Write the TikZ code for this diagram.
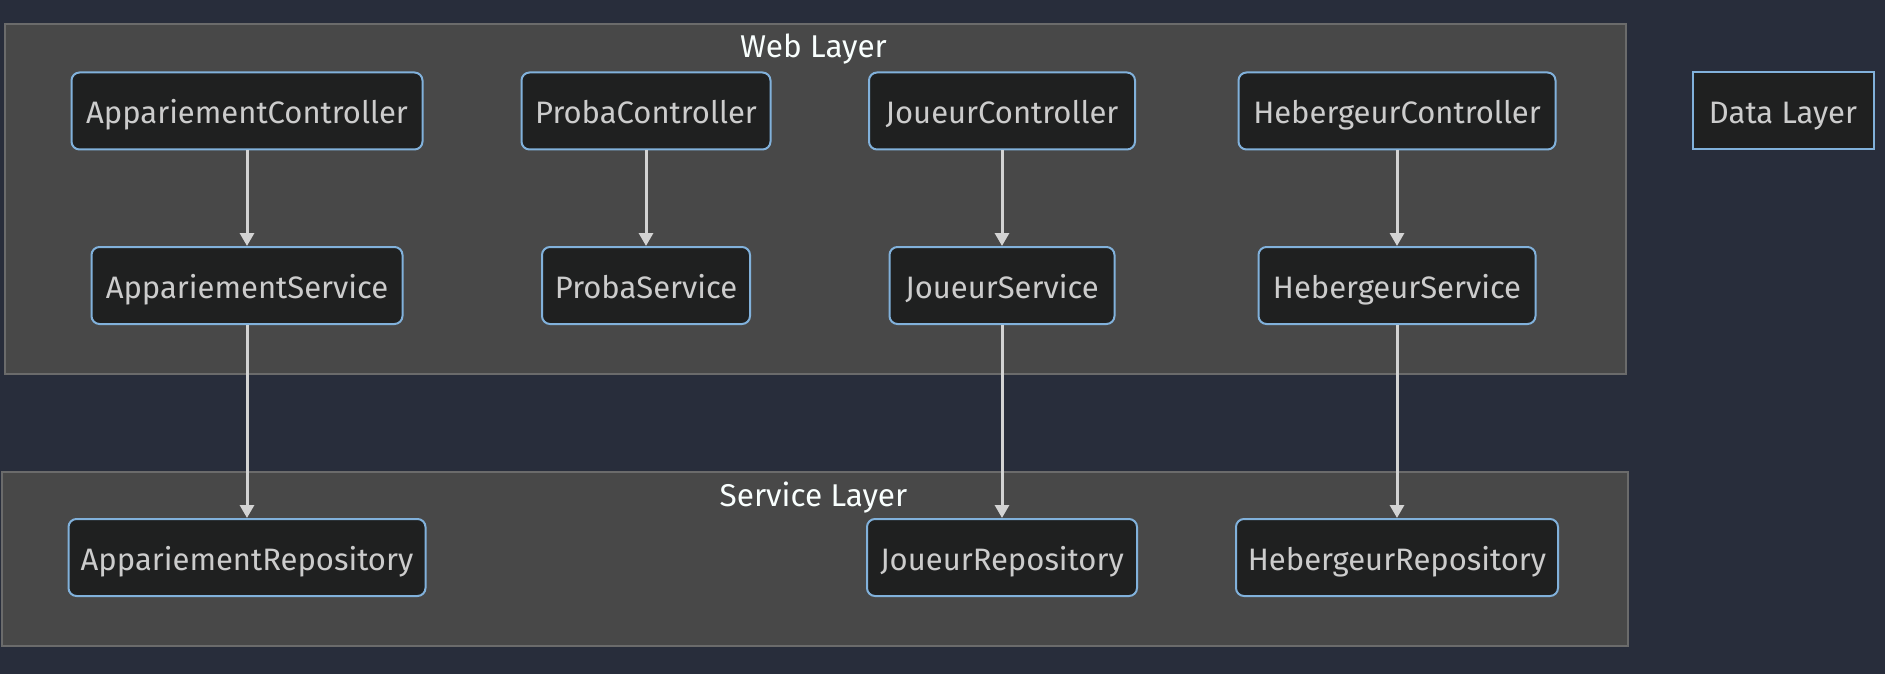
\documentclass[tikz,border=0pt]{standalone}
\usepackage{fontspec}
\setmainfont{Fira Sans}
\usetikzlibrary{arrows.meta}
\definecolor{bg}{HTML}{282D3B}
\definecolor{clfill}{HTML}{484848}
\definecolor{cldraw}{HTML}{6B6B6B}
\definecolor{ndfill}{HTML}{1F2020}
\definecolor{nddraw}{HTML}{81B1DB}
\definecolor{ndtext}{HTML}{CCCCCC}
\definecolor{ttext}{HTML}{F9FFFE}
\definecolor{edgecol}{HTML}{D3D3D3}
\begin{document}
\begin{tikzpicture}[x=1pt,y=-1pt,
  box/.style={draw=nddraw, fill=ndfill, line width=2pt, rounded corners=8pt,
    minimum height=77pt, inner sep=0pt, text=ndtext, text height=26pt, text depth=0pt,
    font=\fontsize{31}{36}\selectfont},
  sqbox/.style={box, rounded corners=0pt},
  cluster/.style={draw=cldraw, fill=clfill, line width=2pt, inner sep=0pt, anchor=north west},
  cltitle/.style={text=ttext, inner sep=0pt, anchor=base, font=\fontsize{31.5}{36}\selectfont},
  arr/.style={draw=edgecol, line width=3pt, -{Triangle[length=13pt,width=14pt]}}
]
\fill[bg] (0,0) rectangle (1885,674);
\useasboundingbox (0,0) rectangle (1885,674);
% clusters
\node[cluster, minimum width=1621pt, minimum height=349pt] (web) at (3.5,23.5) {};
\node[cluster, minimum width=1626pt, minimum height=174pt] (svc) at (0.5,470.5) {};
\node[cltitle] (webt) at (813.5,58) {Web Layer};
\node[cltitle] (svct) at (813.5,506.5) {Service Layer};
% controllers
\node[box, minimum width=351pt] (ac) at (247,111) {AppariementController};
\node[box, minimum width=249pt] (pc) at (646,111) {ProbaController};
\node[box, minimum width=266pt] (jc) at (1002,111) {JoueurController};
\node[box, minimum width=317pt] (hc) at (1397,111) {HebergeurController};
\node[sqbox, minimum width=181pt] (dl) at (1783,111) {Data Layer};
% services
\node[box, minimum width=311pt] (as) at (247,285.5) {AppariementService};
\node[box, minimum width=208pt] (ps) at (646,285.5) {ProbaService};
\node[box, minimum width=225pt] (js) at (1002,285.5) {JoueurService};
\node[box, minimum width=277pt] (hs) at (1397,285.5) {HebergeurService};
% repositories
\node[box, minimum width=357pt] (ar) at (247,557.5) {AppariementRepository};
\node[box, minimum width=270pt] (jr) at (1002,557.5) {JoueurRepository};
\node[box, minimum width=322pt] (hr) at (1397,557.5) {HebergeurRepository};
% edges
\draw[arr] (ac) -- (as);
\draw[arr] (pc) -- (ps);
\draw[arr] (jc) -- (js);
\draw[arr] (hc) -- (hs);
\draw[arr] (as) -- (ar);
\draw[arr] (js) -- (jr);
\draw[arr] (hs) -- (hr);
\end{tikzpicture}
\end{document}
